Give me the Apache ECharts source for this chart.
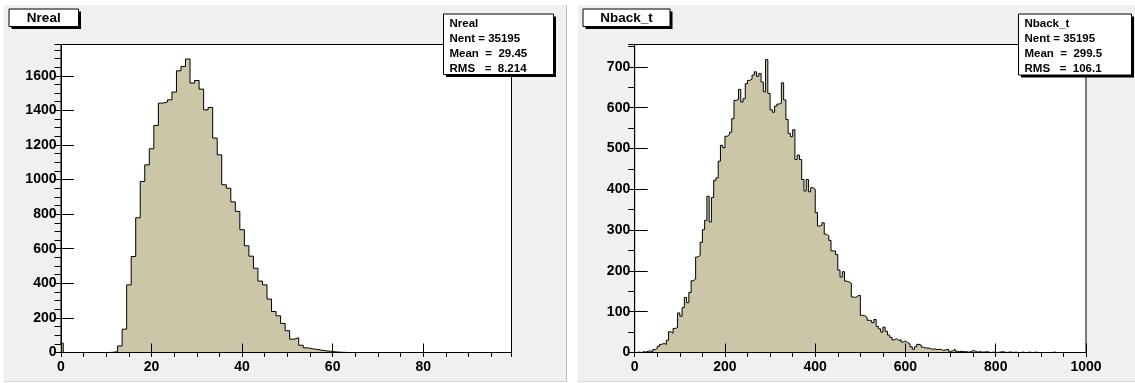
<!DOCTYPE html>
<html>
<head>
<meta charset="utf-8">
<title>Nreal / Nback_t</title>
<script src="https://cdn.jsdelivr.net/npm/echarts/dist/echarts.min.js"></script>
<style>
  html, body { margin: 0; padding: 0; background: #ffffff; }
  #chart { width: 1135px; height: 383px; }
</style>
</head>
<body>
<div id="chart"></div>
<script>
// ---- Nreal: 100 unit-wide bins centred on the integers 0..99 ----
const nrealCounts = [
  54, 0, 0, 0, 0, 0, 0, 0, 0, 0,
  0, 1, 5, 38, 135, 391, 555, 779, 989, 1085,
  1178, 1313, 1442, 1448, 1461, 1506, 1629, 1654, 1697, 1558,
  1573, 1523, 1403, 1417, 1240, 1143, 970, 950, 871, 816,
  710, 617, 557, 487, 413, 391, 309, 237, 212, 168,
  126, 77, 85, 42, 27, 22, 18, 14, 10, 7,
  4, 2, 1, 0, 0, 0, 0, 0, 0, 0,
  0, 0, 0, 0, 0, 0, 0, 0, 0, 0,
  0, 0, 0, 0, 0, 0, 0, 0, 0, 0,
  0, 0, 0, 0, 0, 0, 0, 0, 0, 0
];
const nrealBinLow = -0.5;
const nrealBinWidth = 1;
const nrealXTicks = [0, 20, 40, 60, 80];
const nrealYTicks = [0, 200, 400, 600, 800, 1000, 1200, 1400, 1600];
const nrealStats = { name: 'Nreal', nent: '35195', mean: '29.45', rms: '8.214' };

// ---- Nback_t: 200 bins of width 5 from 0 to 1000 ----
const nbackCounts = [
  0, 1, 0, 2, 1, 3, 4, 2, 7, 10,
  15, 20, 22, 20, 30, 51, 47, 59, 61, 97,
  89, 110, 135, 122, 147, 176, 180, 234, 238, 270,
  301, 324, 383, 320, 380, 422, 428, 469, 508, 502,
  530, 534, 540, 573, 618, 620, 645, 614, 622, 659,
  667, 670, 680, 688, 677, 684, 663, 639, 718, 635,
  595, 589, 604, 609, 611, 661, 619, 571, 537, 529,
  546, 473, 484, 473, 424, 396, 424, 394, 404, 400,
  343, 310, 312, 318, 290, 286, 275, 249, 249, 240,
  202, 185, 198, 175, 173, 170, 136, 135, 139, 140,
  91, 90, 86, 79, 78, 73, 81, 64, 58, 50,
  62, 52, 43, 37, 31, 34, 30, 31, 26, 28,
  24, 21, 14, 8, 14, 20, 18, 13, 11, 11,
  10, 8, 9, 7, 8, 7, 5, 7, 8, 3,
  4, 8, 3, 2, 3, 2, 2, 1, 2, 5,
  3, 1, 2, 1, 1, 2, 1, 0, 1, 1,
  0, 1, 2, 1, 0, 1, 1, 0, 1, 0,
  0, 1, 0, 0, 1, 0, 0, 1, 0, 0,
  0, 0, 0, 0, 0, 1, 0, 0, 0, 0,
  0, 0, 0, 0, 0, 0, 0, 0, 0, 0
];
const nbackBinLow = 0;
const nbackBinWidth = 5;
const nbackXTicks = [0, 200, 400, 600, 800, 1000];
const nbackYTicks = [0, 100, 200, 300, 400, 500, 600, 700];
const nbackStats = { name: 'Nback_t', nent: '35195', mean: '299.5', rms: '106.1' };

// ---- styling ----
const FONT = '"Liberation Sans", Arial, Helvetica, sans-serif';
const FILL = '#ccc6a9';
const PAD_BG = '#f0f0f0';

// Outline of a histogram as step points: each bin contributes its left edge.
function histogramOutline(counts, low, width) {
  const pts = [[low, 0]];
  counts.forEach((c, i) => pts.push([low + i * width, c]));
  const hi = low + counts.length * width;
  pts.push([hi, counts[counts.length - 1]]);
  pts.push([hi, 0]);
  return pts;
}

function majorAxis(gridIndex, max, interval, tickLen, labels, margin) {
  return {
    type: 'value', gridIndex, min: 0, max, interval, z: 5,
    axisLine: { show: true, onZero: false, lineStyle: { color: '#000', width: 1 } },
    axisTick: { show: true, inside: true, length: tickLen, lineStyle: { color: '#000', width: 1 } },
    axisLabel: {
      show: true, margin, color: '#000', fontFamily: FONT, fontWeight: 'bold', fontSize: 14,
      formatter: v => (labels.indexOf(v) >= 0 ? String(v) : '')
    },
    splitLine: { show: false }
  };
}
function minorAxis(gridIndex, max, interval, tickLen) {
  return {
    type: 'value', gridIndex, min: 0, max, interval, z: 5,
    axisLine: { show: false },
    axisTick: { show: true, inside: true, length: tickLen, lineStyle: { color: '#000', width: 1 } },
    axisLabel: { show: false },
    splitLine: { show: false }
  };
}

const nrealXMax = 99.5, nrealYMax = 1781;
const nbackXMax = 1000, nbackYMax = 755;

// pad decorations: background, title box, stats box
function titleBox(x, y, w, h, label) {
  return [
    { type: 'rect', z: 20, shape: { x: x + 2.5, y: y + 2.5, width: w, height: h }, style: { fill: '#000' } },
    { type: 'rect', z: 21, shape: { x, y, width: w, height: h }, style: { fill: '#ffffff', stroke: '#000', lineWidth: 1 } },
    { type: 'text', z: 22, x: x + w / 2, y: y + h / 2 + 0.5,
      style: { text: label, fill: '#000', font: 'bold 13.5px ' + FONT, align: 'center', verticalAlign: 'middle' } }
  ];
}
function statsBox(x, y, w, h, s) {
  const lines = [s.name, 'Nent = ' + s.nent, 'Mean  =  ' + s.mean, 'RMS   =  ' + s.rms];
  const els = [
    { type: 'rect', z: 20, shape: { x: x + 2.5, y: y + 2.5, width: w, height: h }, style: { fill: '#000' } },
    { type: 'rect', z: 21, shape: { x, y, width: w, height: h }, style: { fill: '#ffffff', stroke: '#000', lineWidth: 1 } }
  ];
  lines.forEach((t, i) => {
    els.push({ type: 'text', z: 22, x: x + 6, y: y + 9.5 + i * 15.2,
      style: { text: t, fill: '#000', font: 'bold 11.5px ' + FONT, align: 'left', verticalAlign: 'middle' } });
  });
  return els;
}
function pad(x, y, w, h) {
  return [
    { type: 'rect', z: -10, shape: { x, y, width: w, height: h }, style: { fill: PAD_BG } },
    { type: 'line', z: -9, shape: { x1: x + w - 0.5, y1: y, x2: x + w - 0.5, y2: y + h }, style: { stroke: '#bdbdbd', lineWidth: 1 } },
    { type: 'line', z: -9, shape: { x1: x, y1: y + h - 0.5, x2: x + w, y2: y + h - 0.5 }, style: { stroke: '#d6d6d6', lineWidth: 1 } }
  ];
}

const graphics = [].concat(
  pad(3.5, 5, 563.5, 377),
  pad(578, 5, 560, 377),
  titleBox(9, 9, 69.5, 17.5, 'Nreal'),
  titleBox(583, 9, 87, 17.5, 'Nback_t'),
  statsBox(443.5, 14, 110, 60.5, nrealStats),
  statsBox(1018.5, 14, 113, 61, nbackStats)
);

const chart = echarts.init(document.getElementById('chart'), null, { renderer: 'canvas' });
chart.setOption({
  animation: false,
  backgroundColor: '#ffffff',
  graphic: { elements: graphics },
  grid: [
    { left: 61, top: 44.5, width: 450.5, height: 308, show: true, backgroundColor: '#ffffff',
      borderColor: '#000', borderWidth: 1, containLabel: false, outerBoundsMode: 'none' },
    { left: 634.7, top: 44.5, width: 451.3, height: 308, show: true, backgroundColor: '#ffffff',
      borderColor: '#000', borderWidth: 1, containLabel: false, outerBoundsMode: 'none' }
  ],
  xAxis: [
    majorAxis(0, nrealXMax, 20, 9, nrealXTicks, 8),
    minorAxis(0, nrealXMax, 5, 4.5),
    majorAxis(1, nbackXMax, 200, 9, nbackXTicks, 8),
    minorAxis(1, nbackXMax, 50, 4.5)
  ],
  yAxis: [
    majorAxis(0, nrealYMax, 200, 13, nrealYTicks, 4.5),
    minorAxis(0, nrealYMax, 50, 6.5),
    majorAxis(1, nbackYMax, 100, 13, nbackYTicks, 4.5),
    minorAxis(1, nbackYMax, 50, 6.5)
  ],
  series: [
    {
      name: 'Nreal', type: 'line', xAxisIndex: 0, yAxisIndex: 0, step: 'end',
      data: histogramOutline(nrealCounts, nrealBinLow, nrealBinWidth),
      showSymbol: false, symbol: 'none', clip: true, z: 2,
      lineStyle: { color: '#000', width: 1 },
      areaStyle: { color: FILL, opacity: 1 }
    },
    {
      name: 'Nback_t', type: 'line', xAxisIndex: 2, yAxisIndex: 2, step: 'end',
      data: histogramOutline(nbackCounts, nbackBinLow, nbackBinWidth),
      showSymbol: false, symbol: 'none', clip: true, z: 2,
      lineStyle: { color: '#000', width: 1 },
      areaStyle: { color: FILL, opacity: 1 }
    }
  ]
});
</script>
</body>
</html>
